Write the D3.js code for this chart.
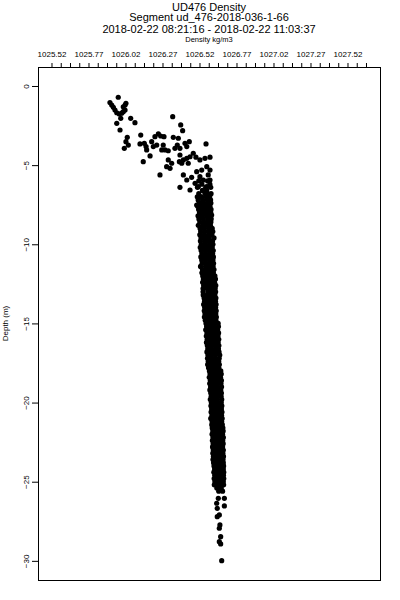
<!DOCTYPE html>
<html>
<head>
<meta charset="utf-8">
<script src="https://cdn.jsdelivr.net/npm/d3@7"></script>
<style>
  body { margin: 0; background: #fff; }
  svg { display: block; font-family: "Liberation Sans", Arial, sans-serif; }
</style>
</head>
<body>
<div id="chart"></div>
<script>
const titleLines = [
  'UD476 Density',
  'Segment ud_476-2018-036-1-66',
  '2018-02-22 08:21:16 - 2018-02-22 11:03:37'
];
const xLabel = 'Density kg/m3';
const yLabel = 'Depth (m)';

const xTickLabels = [1025.52, 1025.77, 1026.02, 1026.27, 1026.52, 1026.77, 1027.02, 1027.27, 1027.52];
const yTickLabels = [0, -5, -10, -15, -20, -25, -30];

// [depth, density] near the surface, scattered
const surfaceCast = [
  [-0.71, 1025.971], [-1.09, 1026.023], [-1.05, 1025.915], [-1.20, 1025.927], [-1.35, 1025.938],
  [-1.52, 1025.949], [-1.69, 1025.961], [-1.77, 1025.978], [-1.72, 1025.994], [-1.62, 1026.005],
  [-1.52, 1026.017], [-1.31, 1026.005], [-1.20, 1026.017], [-2.04, 1025.988], [-2.36, 1025.961],
  [-2.78, 1025.983], [-2.04, 1026.055], [-2.32, 1026.084], [-1.94, 1026.339], [-2.46, 1026.393],
  [-2.82, 1026.406], [-3.24, 1026.032], [-3.52, 1026.023], [-3.73, 1026.039], [-3.94, 1026.012],
  [-3.10, 1026.123], [-3.66, 1026.118], [-3.62, 1026.147], [-3.83, 1026.159], [-4.04, 1026.163],
  [-3.52, 1026.197], [-3.20, 1026.219], [-3.03, 1026.242], [-3.16, 1026.258], [-3.83, 1026.208],
  [-3.73, 1026.231], [-3.20, 1026.280], [-3.73, 1026.275], [-4.04, 1026.265], [-4.04, 1026.287],
  [-4.09, 1026.309], [-3.24, 1026.343], [-3.30, 1026.377], [-3.73, 1026.370], [-3.94, 1026.388],
  [-3.94, 1026.354], [-3.62, 1026.422], [-3.52, 1026.451], [-3.83, 1026.434], [-3.66, 1026.564],
  [-4.42, 1026.186], [-4.78, 1026.140], [-4.67, 1026.309], [-4.88, 1026.332], [-5.10, 1026.298],
  [-5.20, 1026.321], [-4.36, 1026.388], [-4.67, 1026.411], [-4.57, 1026.434], [-4.88, 1026.444],
  [-4.88, 1026.400], [-4.78, 1026.384], [-4.47, 1026.456], [-4.25, 1026.478], [-4.50, 1026.496],
  [-4.67, 1026.523], [-4.57, 1026.557], [-4.50, 1026.591], [-5.62, 1026.253], [-5.62, 1026.411],
  [-5.94, 1026.434], [-5.77, 1026.467], [-5.41, 1026.501], [-5.31, 1026.535], [-5.73, 1026.523],
  [-5.10, 1026.569], [-5.31, 1026.591], [-5.62, 1026.579], [-6.40, 1026.388], [-6.57, 1026.456],
  [-6.15, 1026.490], [-6.36, 1026.512], [-5.94, 1026.546], [-5.94, 1026.591], [-6.36, 1026.569],
  [-6.78, 1026.557], [-6.99, 1026.523], [-7.52, 1026.501], [-7.62, 1026.535], [-7.20, 1026.579],
  [-7.83, 1026.591], [-8.04, 1026.557], [-8.15, 1026.602], [-8.04, 1026.523], [-7.62, 1026.569]
];

// [depth, densities...] for the dense part of the profile
const columnRows = [
  [-6.0, 1026.515, 1026.575], [-6.2, 1026.536, 1026.590],
  [-6.4, 1026.506, 1026.562, 1026.596], [-6.6, 1026.540, 1026.569],
  [-6.8, 1026.515, 1026.574, 1026.598], [-7.0, 1026.505, 1026.535, 1026.565, 1026.589],
  [-7.2, 1026.511, 1026.541, 1026.572, 1026.595], [-7.4, 1026.518, 1026.547, 1026.576, 1026.597],
  [-7.6, 1026.508, 1026.538, 1026.567, 1026.591], [-7.8, 1026.514, 1026.544, 1026.573, 1026.598],
  [-8.0, 1026.520, 1026.549, 1026.578, 1026.596], [-8.2, 1026.510, 1026.540, 1026.569, 1026.593],
  [-8.4, 1026.516, 1026.546, 1026.575, 1026.599], [-8.6, 1026.522, 1026.551, 1026.580, 1026.597],
  [-8.8, 1026.512, 1026.542, 1026.571, 1026.594], [-9.0, 1026.524, 1026.553, 1026.582, 1026.606],
  [-9.2, 1026.528, 1026.557, 1026.585, 1026.610], [-9.4, 1026.522, 1026.551, 1026.580, 1026.604],
  [-9.6, 1026.530, 1026.558, 1026.586, 1026.618], [-9.8, 1026.526, 1026.555, 1026.583, 1026.608],
  [-10.0, 1026.532, 1026.560, 1026.588, 1026.611], [-10.2, 1026.525, 1026.553, 1026.581, 1026.606],
  [-10.4, 1026.531, 1026.559, 1026.587, 1026.613], [-10.6, 1026.536, 1026.563, 1026.590, 1026.609],
  [-10.8, 1026.529, 1026.557, 1026.585, 1026.614], [-11.0, 1026.535, 1026.562, 1026.589, 1026.611],
  [-11.2, 1026.538, 1026.566, 1026.593, 1026.615], [-11.4, 1026.527, 1026.561, 1026.588, 1026.612],
  [-11.6, 1026.540, 1026.567, 1026.594, 1026.618], [-11.8, 1026.536, 1026.563, 1026.590, 1026.614],
  [-12.0, 1026.542, 1026.570, 1026.598, 1026.624], [-12.2, 1026.546, 1026.573, 1026.600, 1026.628],
  [-12.4, 1026.541, 1026.569, 1026.597, 1026.622], [-12.6, 1026.548, 1026.575, 1026.602, 1026.630],
  [-12.8, 1026.544, 1026.571, 1026.599, 1026.626], [-13.0, 1026.544, 1026.577, 1026.604, 1026.629],
  [-13.2, 1026.545, 1026.572, 1026.600, 1026.624], [-13.4, 1026.551, 1026.578, 1026.605, 1026.631],
  [-13.6, 1026.554, 1026.581, 1026.607, 1026.628], [-13.8, 1026.548, 1026.575, 1026.602, 1026.632],
  [-14.0, 1026.555, 1026.582, 1026.608, 1026.629], [-14.2, 1026.552, 1026.579, 1026.606, 1026.633],
  [-14.4, 1026.557, 1026.584, 1026.610, 1026.630], [-14.6, 1026.553, 1026.580, 1026.607, 1026.634],
  [-14.8, 1026.559, 1026.585, 1026.611, 1026.631], [-15.0, 1026.564, 1026.591, 1026.618, 1026.646],
  [-15.2, 1026.568, 1026.594, 1026.620, 1026.648], [-15.4, 1026.562, 1026.589, 1026.616, 1026.643],
  [-15.6, 1026.570, 1026.596, 1026.622, 1026.649], [-15.8, 1026.566, 1026.592, 1026.619, 1026.645],
  [-16.0, 1026.572, 1026.598, 1026.624, 1026.650], [-16.2, 1026.567, 1026.593, 1026.620, 1026.646],
  [-16.4, 1026.573, 1026.599, 1026.625, 1026.651], [-16.6, 1026.576, 1026.601, 1026.627, 1026.648],
  [-16.8, 1026.570, 1026.596, 1026.622, 1026.652], [-17.0, 1026.577, 1026.602, 1026.628, 1026.657],
  [-17.2, 1026.574, 1026.600, 1026.626, 1026.653], [-17.4, 1026.579, 1026.604, 1026.629, 1026.650],
  [-17.6, 1026.575, 1026.601, 1026.627, 1026.654], [-17.8, 1026.581, 1026.606, 1026.631, 1026.651],
  [-18.0, 1026.587, 1026.612, 1026.637, 1026.664], [-18.2, 1026.591, 1026.615, 1026.640, 1026.667],
  [-18.4, 1026.586, 1026.611, 1026.636, 1026.662], [-18.6, 1026.593, 1026.617, 1026.642, 1026.668],
  [-18.8, 1026.589, 1026.613, 1026.638, 1026.665], [-19.0, 1026.595, 1026.619, 1026.643, 1026.669],
  [-19.2, 1026.590, 1026.614, 1026.639, 1026.664], [-19.4, 1026.596, 1026.620, 1026.644, 1026.668],
  [-19.6, 1026.599, 1026.622, 1026.646, 1026.666], [-19.8, 1026.593, 1026.617, 1026.641, 1026.670],
  [-20.0, 1026.600, 1026.623, 1026.647, 1026.667], [-20.2, 1026.597, 1026.621, 1026.645, 1026.671],
  [-20.4, 1026.602, 1026.625, 1026.648, 1026.668], [-20.6, 1026.598, 1026.622, 1026.646, 1026.672],
  [-20.8, 1026.604, 1026.627, 1026.650, 1026.669], [-21.0, 1026.596, 1026.624, 1026.648, 1026.673],
  [-21.2, 1026.605, 1026.628, 1026.651, 1026.670], [-21.4, 1026.603, 1026.626, 1026.650, 1026.674],
  [-21.6, 1026.606, 1026.629, 1026.653, 1026.678], [-21.8, 1026.610, 1026.632, 1026.655, 1026.680],
  [-22.0, 1026.605, 1026.628, 1026.652, 1026.676], [-22.2, 1026.611, 1026.633, 1026.656, 1026.681],
  [-22.4, 1026.607, 1026.630, 1026.654, 1026.677], [-22.6, 1026.612, 1026.634, 1026.657, 1026.680],
  [-22.8, 1026.608, 1026.631, 1026.655, 1026.676], [-23.0, 1026.613, 1026.635, 1026.658, 1026.681],
  [-23.2, 1026.610, 1026.633, 1026.656, 1026.678], [-23.4, 1026.614, 1026.636, 1026.659, 1026.682],
  [-23.6, 1026.611, 1026.634, 1026.657, 1026.679], [-23.8, 1026.615, 1026.637, 1026.660, 1026.681],
  [-24.0, 1026.618, 1026.640, 1026.662, 1026.683], [-24.2, 1026.622, 1026.643, 1026.664, 1026.681],
  [-24.4, 1026.617, 1026.639, 1026.661, 1026.684], [-24.6, 1026.623, 1026.644, 1026.665, 1026.682],
  [-24.8, 1026.619, 1026.641, 1026.663, 1026.684], [-25.0, 1026.624, 1026.645, 1026.666, 1026.681],
  [-25.2, 1026.620, 1026.642, 1026.664, 1026.683], [-25.4, 1026.637, 1026.667],
  [-25.6, 1026.650, 1026.676]
];

// [depth, density] sparse readings at the bottom
const bottomCast = [
  [-26.05, 1026.647], [-26.05, 1026.688], [-26.36, 1026.636], [-26.53, 1026.688],
  [-26.68, 1026.640], [-27.10, 1026.654], [-27.21, 1026.640], [-27.73, 1026.658],
  [-27.94, 1026.654], [-28.47, 1026.663], [-28.79, 1026.654], [-28.93, 1026.663],
  [-29.99, 1026.670]
];

const width = 400;
const height = 600;
const margin = { top: 67, right: 20, bottom: 20, left: 38 };

const points = surfaceCast
  .concat(columnRows.flatMap(r => r.slice(1).map(v => [r[0], v])))
  .concat(bottomCast);

const svg = d3
  .select('#chart')
  .append('svg')
  .attr('width', width)
  .attr('height', height);

const x = d3
  .scaleLinear()
  .domain([1025.4288, 1027.7396])
  .range([margin.left, width - margin.right]);

const y = d3
  .scaleLinear()
  .domain([1.2, -31.21])
  .range([margin.top, height - margin.bottom]);

// titles
svg
  .append('g')
  .attr('text-anchor', 'middle')
  .attr('font-size', 11)
  .selectAll('text')
  .data(titleLines)
  .enter()
  .append('text')
  .attr('x', (margin.left + width - margin.right) / 2)
  .attr('y', (d, i) => [10.5, 21, 33][i])
  .text(d => d);

svg
  .append('text')
  .attr('x', (margin.left + width - margin.right) / 2)
  .attr('y', 41.5)
  .attr('text-anchor', 'middle')
  .attr('font-size', 7.5)
  .text(xLabel);

// top axis: minor ticks every 0.0625, labels every 0.25
const minorTicks = d3.range(0, 35).map(i => xTickLabels[0] + i * 0.0625);

const topAxis = svg
  .append('g')
  .attr('transform', `translate(0,${margin.top})`)
  .call(
    d3.axisTop(x)
      .tickValues(minorTicks)
      .tickSize(4)
      .tickPadding(6.5)
      .tickFormat(d => (xTickLabels.some(v => Math.abs(v - d) < 1e-6) ? d.toFixed(2) : ''))
  );
topAxis.select('.domain').remove();
topAxis.selectAll('line').attr('stroke', '#000');
topAxis.selectAll('text').attr('font-size', 8).attr('font-family', 'Liberation Sans, Arial, sans-serif').attr('fill', '#000');

// left axis with rotated labels
const leftAxis = svg
  .append('g')
  .attr('transform', `translate(${margin.left},0)`)
  .call(d3.axisLeft(y).tickValues(yTickLabels).tickSize(6).tickFormat(d3.format('d')));
leftAxis.select('.domain').remove();
leftAxis.selectAll('line').attr('stroke', '#000');
leftAxis
  .selectAll('text')
  .attr('font-size', 8)
  .attr('font-family', 'Liberation Sans, Arial, sans-serif')
  .attr('fill', '#000')
  .attr('text-anchor', 'middle')
  .attr('x', null)
  .attr('transform', 'translate(-12,0) rotate(-90)')
  .attr('y', 0)
  .attr('dy', '0.35em');

svg
  .append('text')
  .attr('transform', `translate(8,${(margin.top + height - margin.bottom) / 2}) rotate(-90)`)
  .attr('text-anchor', 'middle')
  .attr('font-size', 8)
  .text(yLabel);

// frame
svg
  .append('rect')
  .attr('x', margin.left + 0.5)
  .attr('y', margin.top + 0.5)
  .attr('width', width - margin.right - margin.left)
  .attr('height', height - margin.bottom - margin.top)
  .attr('fill', 'none')
  .attr('stroke', '#000');

// points
svg
  .append('g')
  .attr('fill', '#000')
  .selectAll('circle')
  .data(points)
  .enter()
  .append('circle')
  .attr('cx', d => x(d[1]))
  .attr('cy', d => y(d[0]))
  .attr('r', 2.6);
</script>
</body>
</html>
